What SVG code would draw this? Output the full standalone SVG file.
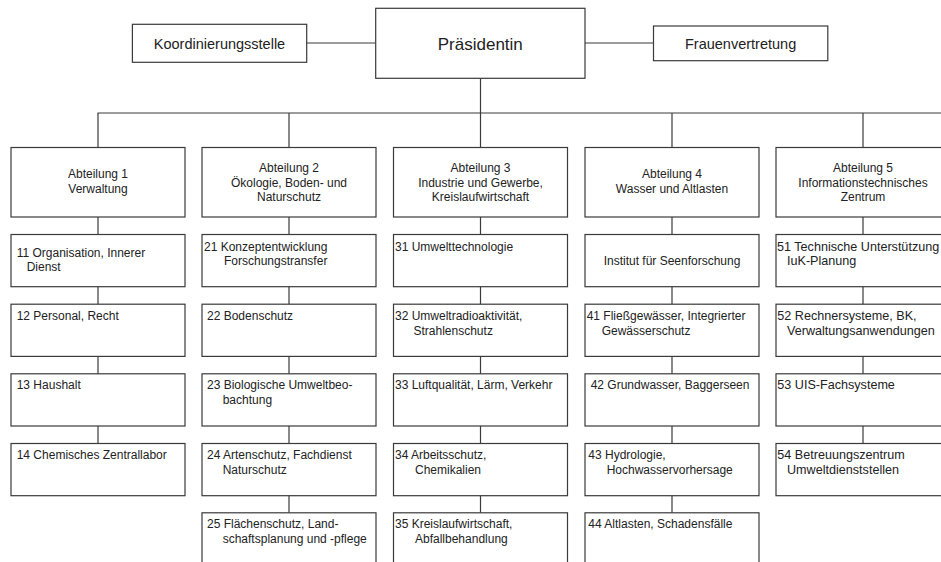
<svg xmlns="http://www.w3.org/2000/svg" width="941" height="562" viewBox="0 0 941 562">
<style>
rect.b{fill:#fff;stroke:#3a3a3a;stroke-width:1.2}
#connectors line{stroke:#3a3a3a;stroke-width:1.2}
text{font-family:"Liberation Sans",Arial,sans-serif;font-size:12px;fill:#222}
text.c{text-anchor:middle}
text.t{font-size:14.5px}
text.p{font-size:17px}
text.w{font-size:12.6px}
</style>
<rect width="941" height="562" fill="#fff"/>
<g id="connectors">
<line x1="306.7" y1="43" x2="375.7" y2="43"/>
<line x1="585" y1="43" x2="653.5" y2="43"/>
<line x1="480.5" y1="78.3" x2="480.5" y2="113"/>
<line x1="97.5" y1="113" x2="941" y2="113"/>
<line x1="98" y1="113" x2="98" y2="147.5"/>
<line x1="289" y1="113" x2="289" y2="147.5"/>
<line x1="480.5" y1="113" x2="480.5" y2="147.5"/>
<line x1="672" y1="113" x2="672" y2="147.5"/>
<line x1="863" y1="113" x2="863" y2="147.5"/>
<line x1="98" y1="217" x2="98" y2="443.5"/>
<line x1="289" y1="217" x2="289" y2="512.8"/>
<line x1="480.5" y1="217" x2="480.5" y2="512.8"/>
<line x1="672" y1="217" x2="672" y2="512.8"/>
<line x1="863" y1="217" x2="863" y2="443.5"/>
</g>
<g id="praesidentin"><rect class="b" x="375.7" y="8.3" width="209.3" height="70"/><text class="c p" x="480.3" y="50">Präsidentin</text></g>
<g id="koordinierungsstelle"><rect class="b" x="132.4" y="24.3" width="174.3" height="38"/><text class="c t" x="219.5" y="48.8">Koordinierungsstelle</text></g>
<g id="frauenvertretung"><rect class="b" x="653.5" y="26" width="174.3" height="34.7"/><text class="c t" x="740.6" y="48.8">Frauenvertretung</text></g>

<g id="abt1"><rect class="b" x="11" y="147.5" width="174" height="69.5"/><text class="c" x="98" y="178.3">Abteilung 1</text><text class="c" x="98" y="192.7">Verwaltung</text></g>
<g id="abt2"><rect class="b" x="202" y="147.5" width="174" height="69.5"/><text class="c" x="289" y="172.3">Abteilung 2</text><text class="c" x="289" y="186.7">Ökologie, Boden- und</text><text class="c" x="289" y="201">Naturschutz</text></g>
<g id="abt3"><rect class="b" x="393.5" y="147.5" width="174" height="69.5"/><text class="c" x="480.5" y="172.3">Abteilung 3</text><text class="c" x="480.5" y="186.7">Industrie und Gewerbe,</text><text class="c" x="480.5" y="201">Kreislaufwirtschaft</text></g>
<g id="abt4"><rect class="b" x="585" y="147.5" width="174" height="69.5"/><text class="c" x="672" y="178.3">Abteilung 4</text><text class="c" x="672" y="192.7">Wasser und Altlasten</text></g>
<g id="abt5"><rect class="b" x="776" y="147.5" width="174" height="69.5"/><text class="c" x="863" y="172.3">Abteilung 5</text><text class="c" x="863" y="186.7">Informationstechnisches</text><text class="c" x="863" y="201">Zentrum</text></g>

<g id="r11"><rect class="b" x="11" y="234.5" width="174" height="52.2"/><text x="16.7" y="256.5">11 Organisation, Innerer</text><text x="26.7" y="271">Dienst</text></g>
<g id="r12"><rect class="b" x="11" y="304.2" width="174" height="52.2"/><text x="16.7" y="320">12 Personal, Recht</text></g>
<g id="r13"><rect class="b" x="11" y="373.8" width="174" height="52.2"/><text x="16.7" y="389.3">13 Haushalt</text></g>
<g id="r14"><rect class="b" x="11" y="443.5" width="174" height="52.2"/><text x="16.7" y="459">14 Chemisches Zentrallabor</text></g>

<g id="r21"><rect class="b" x="202" y="234.5" width="174" height="52.2"/><text x="204" y="250.5">21 Konzeptentwicklung</text><text x="224" y="265">Forschungstransfer</text></g>
<g id="r22"><rect class="b" x="202" y="304.2" width="174" height="52.2"/><text x="207" y="320">22 Bodenschutz</text></g>
<g id="r23"><rect class="b" x="202" y="373.8" width="174" height="52.2"/><text x="207" y="389.3">23 Biologische Umweltbeo-</text><text x="222.7" y="403.8">bachtung</text></g>
<g id="r24"><rect class="b" x="202" y="443.5" width="174" height="52.2"/><text x="207" y="459">24 Artenschutz, Fachdienst</text><text x="222.7" y="473.5">Naturschutz</text></g>
<g id="r25"><rect class="b" x="202" y="512.8" width="174" height="52.2"/><text x="207" y="528">25 Flächenschutz, Land-</text><text x="222.7" y="542.5">schaftsplanung und -pflege</text></g>

<g id="r31"><rect class="b" x="393.5" y="234.5" width="174" height="52.2"/><text x="395" y="250.5">31 Umwelttechnologie</text></g>
<g id="r32"><rect class="b" x="393.5" y="304.2" width="174" height="52.2"/><text x="395" y="320">32 Umweltradioaktivität,</text><text x="413.5" y="334.5">Strahlenschutz</text></g>
<g id="r33"><rect class="b" x="393.5" y="373.8" width="174" height="52.2"/><text x="395" y="389.3">33 Luftqualität, Lärm, Verkehr</text></g>
<g id="r34"><rect class="b" x="393.5" y="443.5" width="174" height="52.2"/><text x="395" y="459">34 Arbeitsschutz,</text><text x="415" y="473.5">Chemikalien</text></g>
<g id="r35"><rect class="b" x="393.5" y="512.8" width="174" height="52.2"/><text x="395" y="528">35 Kreislaufwirtschaft,</text><text x="415" y="542.5">Abfallbehandlung</text></g>

<g id="r40"><rect class="b" x="585" y="234.5" width="174" height="52.2"/><text class="c" x="672" y="265.3">Institut für Seenforschung</text></g>
<g id="r41"><rect class="b" x="585" y="304.2" width="174" height="52.2"/><text x="586.7" y="320">41 Fließgewässer, Integrierter</text><text x="601.7" y="334.5">Gewässerschutz</text></g>
<g id="r42"><rect class="b" x="585" y="373.8" width="174" height="52.2"/><text x="590.7" y="389.3">42 Grundwasser, Baggerseen</text></g>
<g id="r43"><rect class="b" x="585" y="443.5" width="174" height="52.2"/><text x="588.3" y="459">43 Hydrologie,</text><text x="606.7" y="473.5">Hochwasservorhersage</text></g>
<g id="r44"><rect class="b" x="585" y="512.8" width="174" height="52.2"/><text x="588.3" y="528">44 Altlasten, Schadensfälle</text></g>

<g id="r51"><rect class="b" x="776" y="234.5" width="174" height="52.2"/><text class="w" x="777" y="250.5">51 Technische Unterstützung</text><text class="w" x="787" y="265">IuK-Planung</text></g>
<g id="r52"><rect class="b" x="776" y="304.2" width="174" height="52.2"/><text class="w" x="777.3" y="320">52 Rechnersysteme, BK,</text><text class="w" x="787" y="334.5">Verwaltungsanwendungen</text></g>
<g id="r53"><rect class="b" x="776" y="373.8" width="174" height="52.2"/><text class="w" x="777.3" y="389.3">53 UIS-Fachsysteme</text></g>
<g id="r54"><rect class="b" x="776" y="443.5" width="174" height="52.2"/><text class="w" x="777.3" y="459">54 Betreuungszentrum</text><text class="w" x="787" y="473.5">Umweltdienststellen</text></g>
</svg>
